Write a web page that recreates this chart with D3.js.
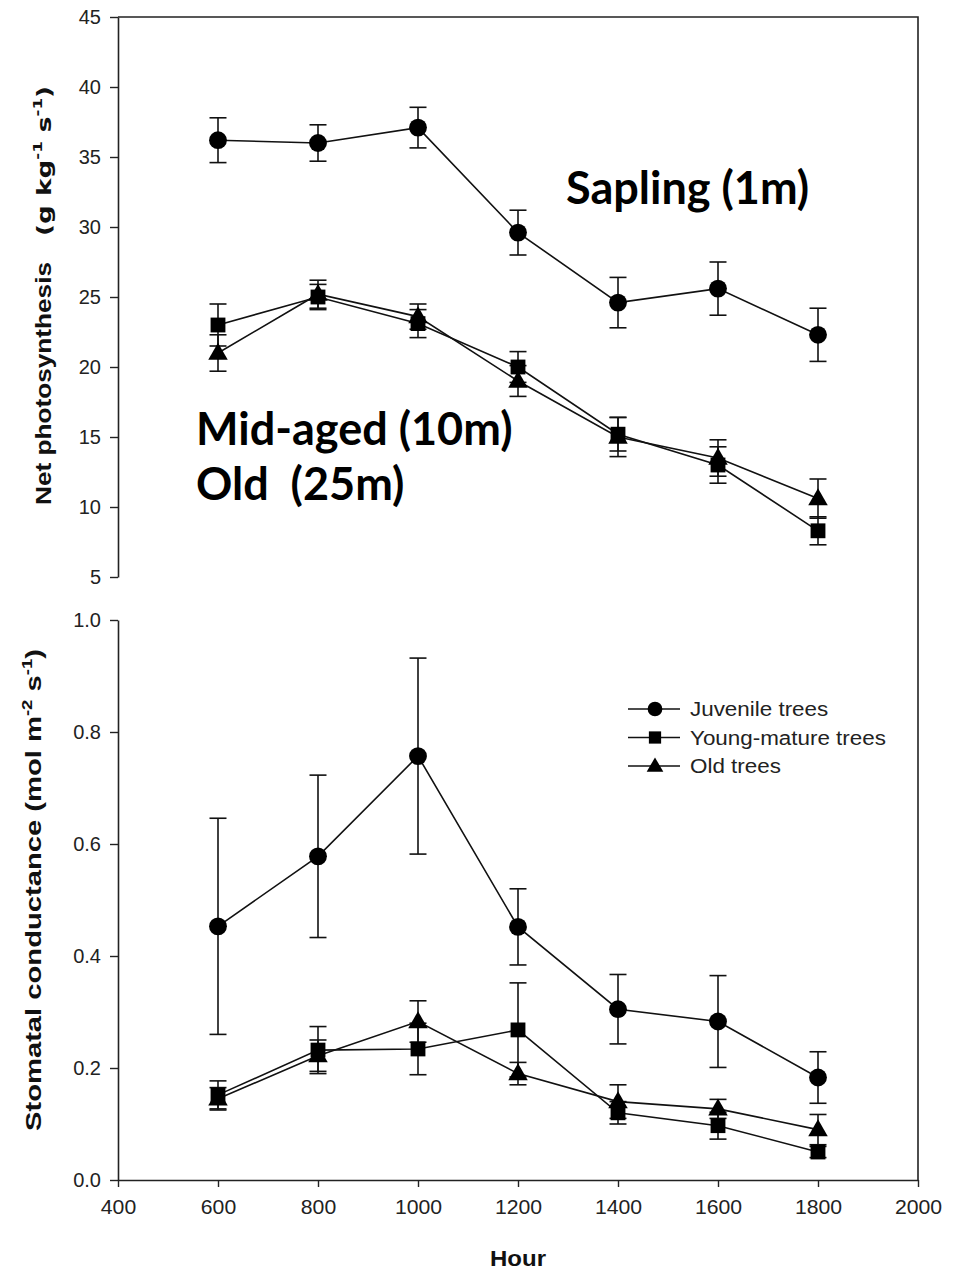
<!DOCTYPE html>
<html>
<head>
<meta charset="utf-8">
<script src="https://cdn.jsdelivr.net/npm/d3@7"></script>
<style>
  body { margin: 0; background: #fff; }
  svg { display: block; }
  .tick text { font-family: "Liberation Sans", Arial, sans-serif; font-size: 20px; fill: #222; }
</style>
</head>
<body>
<svg id="chart" width="964" height="1273"></svg>
<script>
// hours of day
const hours = [600, 800, 1000, 1200, 1400, 1600, 1800];
const xTicks = [400, 600, 800, 1000, 1200, 1400, 1600, 1800, 2000];

// net photosynthesis (g kg-1 s-1)
const netJuvenile = [36.2, 36.0, 37.1, 29.6, 24.6, 25.6, 22.3];
const netJuvenileErr = [1.6, 1.3, 1.45, 1.6, 1.8, 1.9, 1.9];
const netYoung = [23.0, 25.0, 23.1, 20.0, 15.2, 13.0, 8.3];
const netYoungErr = [1.5, 0.9, 1.0, 1.1, 1.2, 1.3, 1.0];
const netOld = [21.0, 25.2, 23.6, 19.0, 15.0, 13.5, 10.6];
const netOldErr = [1.3, 1.0, 0.9, 1.1, 1.4, 1.3, 1.4];
const netTicks = [5, 10, 15, 20, 25, 30, 35, 40, 45];

// stomatal conductance (mol m-2 s-1)
const gsJuvenile = [0.453, 0.578, 0.757, 0.452, 0.305, 0.283, 0.183];
const gsJuvenileErr = [0.193, 0.145, 0.175, 0.068, 0.062, 0.082, 0.046];
const gsYoung = [0.152, 0.232, 0.234, 0.268, 0.12, 0.097, 0.05];
const gsYoungErr = [0.025, 0.042, 0.046, 0.084, 0.02, 0.024, 0.01];
const gsOld = [0.145, 0.222, 0.283, 0.19, 0.14, 0.127, 0.09];
const gsOldErr = [0.02, 0.028, 0.037, 0.02, 0.03, 0.017, 0.027];
const gsTicks = [0.0, 0.2, 0.4, 0.6, 0.8, 1.0];

const legendNames = ["Juvenile trees", "Young-mature trees", "Old trees"];

const svg = d3.select("#chart");
const x = d3.scaleLinear().domain([400, 2000]).range([118, 918]);
const yTop = d3.scaleLinear().domain([5, 45]).range([577, 17]);
const yBot = d3.scaleLinear().domain([0, 1]).range([1180, 620]);

const symbols = {
  circle: d3.symbol().type(d3.symbolCircle).size(250),
  square: d3.symbol().type(d3.symbolSquare).size(220),
  triangle: d3.symbol().type(d3.symbolTriangle).size(165)
};

// widen a text element to a given length (the original figure is stretched)
function fitText(sel, len) {
  sel.attr("textLength", len).attr("lengthAdjust", "spacingAndGlyphs");
}
function stretchText(sel, k) {
  sel.each(function () {
    const w = this.getComputedTextLength();
    d3.select(this).attr("textLength", w * k).attr("lengthAdjust", "spacingAndGlyphs");
  });
}

function series(vals, errs, shape) {
  return { shape, pts: hours.map((h, i) => ({ h, v: vals[i], e: errs[i] })) };
}

function drawPanel(y, list) {
  const g = svg.append("g");
  const line = d3.line().x(d => x(d.h)).y(d => y(d.v));
  list.forEach(s => {
    g.append("path").datum(s.pts).attr("d", line)
      .attr("fill", "none").attr("stroke", "#111").attr("stroke-width", 1.6);
  });
  list.forEach(s => {
    const eb = g.append("g").selectAll("g").data(s.pts).enter().append("g")
      .attr("stroke", "#111").attr("stroke-width", 1.6);
    eb.append("line").attr("x1", d => x(d.h)).attr("x2", d => x(d.h))
      .attr("y1", d => y(d.v - d.e)).attr("y2", d => y(d.v + d.e));
    eb.append("line").attr("x1", d => x(d.h) - 8.5).attr("x2", d => x(d.h) + 8.5)
      .attr("y1", d => y(d.v + d.e)).attr("y2", d => y(d.v + d.e));
    eb.append("line").attr("x1", d => x(d.h) - 8.5).attr("x2", d => x(d.h) + 8.5)
      .attr("y1", d => y(d.v - d.e)).attr("y2", d => y(d.v - d.e));
  });
  list.forEach(s => {
    g.append("g").selectAll("path").data(s.pts).enter().append("path")
      .attr("d", symbols[s.shape])
      .attr("transform", d => `translate(${x(d.h)},${y(d.v) + (s.shape === "triangle" ? 1 : 0)})`)
      .attr("fill", "#000");
  });
}

drawPanel(yTop, [
  series(netJuvenile, netJuvenileErr, "circle"),
  series(netYoung, netYoungErr, "square"),
  series(netOld, netOldErr, "triangle")
]);
drawPanel(yBot, [
  series(gsJuvenile, gsJuvenileErr, "circle"),
  series(gsYoung, gsYoungErr, "square"),
  series(gsOld, gsOldErr, "triangle")
]);

// axes
function styleAxis(a) {
  a.selectAll("path.domain").attr("stroke", "#222").attr("stroke-width", 1.6);
  a.selectAll(".tick line").attr("stroke", "#222").attr("stroke-width", 1.4);
}
svg.append("g").attr("transform", "translate(118,0)")
  .call(d3.axisLeft(yTop).tickValues(netTicks).tickSize(8).tickSizeOuter(0).tickPadding(9))
  .call(styleAxis);
svg.append("g").attr("transform", "translate(118,0)")
  .call(d3.axisLeft(yBot).tickValues(gsTicks).tickFormat(d3.format(".1f")).tickSize(8).tickSizeOuter(0).tickPadding(9))
  .call(styleAxis);
const xAxis = svg.append("g").attr("transform", "translate(0,1180)")
  .call(d3.axisBottom(x).tickValues(xTicks).tickFormat(d3.format("d")).tickSize(7).tickSizeOuter(0).tickPadding(13))
  .call(styleAxis);
stretchText(xAxis.selectAll(".tick text"), 1.06);

// frame (top and right)
svg.append("path")
  .attr("d", `M${x(400)},${yTop(45)}H${x(2000)}V${yBot(0)}`)
  .attr("fill", "none").attr("stroke", "#222").attr("stroke-width", 1.6);

// axis titles
const titleFont = "Liberation Sans, Arial, sans-serif";
const lab = svg.append("text")
  .attr("transform", "translate(51,505) rotate(-90)")
  .attr("font-family", titleFont)
  .attr("font-weight", "bold").attr("font-size", 22).attr("fill", "#111")
  .text("Net photosynthesis");
fitText(lab, 243);

const unit = svg.append("text")
  .attr("transform", "translate(51,236) rotate(-90)")
  .attr("font-family", "DejaVu Sans, sans-serif")
  .attr("font-weight", "bold").attr("font-size", 19).attr("fill", "#111");
unit.append("tspan").text("(g kg");
unit.append("tspan").attr("font-size", 12).attr("dy", -9).text("-1");
unit.append("tspan").attr("dy", 9).text(" s");
unit.append("tspan").attr("font-size", 12).attr("dy", -9).text("-1");
unit.append("tspan").attr("dy", 9).text(")");
fitText(unit, 150);

const lab2 = svg.append("text")
  .attr("transform", "translate(41,1131) rotate(-90)")
  .attr("font-family", titleFont)
  .attr("font-weight", "bold").attr("font-size", 22).attr("fill", "#111");
lab2.append("tspan").text("Stomatal conductance (mol m");
lab2.append("tspan").attr("font-size", 14).attr("dy", -9).text("-2");
lab2.append("tspan").attr("dy", 9).text(" s");
lab2.append("tspan").attr("font-size", 14).attr("dy", -9).text("-1");
lab2.append("tspan").attr("dy", 9).text(")");
fitText(lab2, 482);

const hourLab = svg.append("text").attr("x", 490).attr("y", 1266)
  .attr("font-family", titleFont)
  .attr("font-weight", "bold").attr("font-size", 22).attr("fill", "#111").text("Hour");
fitText(hourLab, 56);

// annotations
const ann = svg.append("g").attr("font-family", "Lato, 'Open Sans', sans-serif")
  .attr("font-weight", "bold").attr("font-size", 45).attr("fill", "#000");
ann.append("text").attr("x", 566).attr("y", 204).text("Sapling (1m)");
ann.append("text").attr("x", 196).attr("y", 445).text("Mid-aged (10m)");
ann.append("text").attr("x", 196).attr("y", 500).attr("xml:space", "preserve").text("Old  (25m)");

// legend
const leg = svg.append("g").selectAll("g").data(legendNames).enter().append("g")
  .attr("transform", (d, i) => `translate(628,${709 + i * 28.5})`);
leg.append("line").attr("x1", 0).attr("x2", 52).attr("stroke", "#111").attr("stroke-width", 1.6);
leg.append("path").attr("transform", (d, i) => `translate(27,${i === 2 ? 1 : 0})`)
  .attr("d", (d, i) => d3.symbol().type([d3.symbolCircle, d3.symbolSquare, d3.symbolTriangle][i]).size([170, 150, 120][i])())
  .attr("fill", "#000");
const legText = leg.append("text").attr("x", 62).attr("y", 7)
  .attr("font-family", titleFont).attr("font-size", 20).attr("fill", "#222")
  .text(d => d);
stretchText(legText, 1.12);
</script>
</body>
</html>
